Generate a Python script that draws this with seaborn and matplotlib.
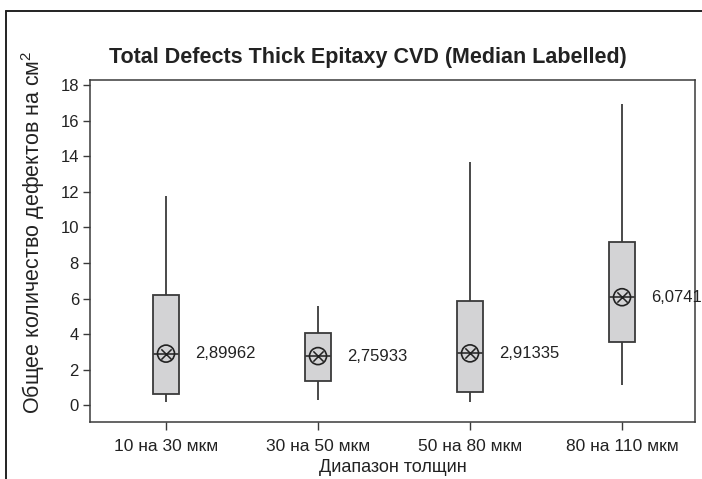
import numpy as np
import pandas as pd
import matplotlib
matplotlib.use("Agg")
import matplotlib.pyplot as plt
from matplotlib.lines import Line2D
import seaborn as sns

categories = ["10 на 30 мкм", "30 на 50 мкм", "50 на 80 мкм", "80 на 110 мкм"]
whisker_low = [0.15, 0.30, 0.15, 1.12]
q1 = [0.60, 1.38, 0.75, 3.53]
medians = [2.89962, 2.75933, 2.91335, 6.0741]
q3 = [6.22, 4.08, 5.87, 9.20]
whisker_high = [11.75, 5.58, 13.68, 16.93]
median_labels = ["2,89962", "2,75933", "2,91335", "6,0741"]
yticks = [0, 2, 4, 6, 8, 10, 12, 14, 16, 18]

rows = []
for i, c in enumerate(categories):
    for v in (whisker_low[i], q1[i], medians[i], q3[i], whisker_high[i]):
        rows.append({"group": c, "value": v})
df = pd.DataFrame(rows)

sns.set_theme(style="white")
plt.rcParams["font.family"] = ["Liberation Sans", "DejaVu Sans"]
plt.rcParams["mathtext.fontset"] = "custom"
plt.rcParams["mathtext.rm"] = "Liberation Sans"
plt.rcParams["mathtext.it"] = "Liberation Sans"

W, H = 702, 479
fig = plt.figure(figsize=(W / 100, H / 100), dpi=100)
ax = fig.add_axes([90 / W, 1 - 422 / H, (695 - 90) / W, (422 - 80) / H])

edge = "#3a3a3a"
sns.boxplot(data=df, x="group", y="value", order=categories, whis=(0, 100),
            width=0.17, color="#d3d3d5", saturation=1, linecolor=edge,
            linewidth=1.3, ax=ax, capprops={"visible": False}, showfliers=False)

# median symbol ⊗
sns.scatterplot(x=np.arange(len(categories)), y=medians, ax=ax, marker="o", s=150,
                facecolor="none", edgecolor="#222222", linewidth=1.2, zorder=5)
sns.scatterplot(x=np.arange(len(categories)), y=medians, ax=ax, marker="x", s=55,
                color="#222222", linewidth=1.1, zorder=6)

for i, (m, lab) in enumerate(zip(medians, median_labels)):
    ax.text(i + 0.19, m, lab, ha="left", va="center", fontsize=12, color="#222222")

ax.set_xlim(-0.5, 3.48)
ax.set_ylim(-0.95, 18.3)
ax.set_yticks(yticks)
ax.set_yticklabels([str(t) for t in yticks])
ax.tick_params(axis="both", which="both", direction="out", length=5, width=1,
               color=edge, labelsize=12, labelcolor="#222222", pad=3,
               left=True, bottom=True)
ax.tick_params(axis="x", length=6, pad=6, labelsize=12.5)
for s in ax.spines.values():
    s.set_color(edge)
    s.set_linewidth(1.1)
ax.set_xlabel("Диапазон толщин", fontsize=13, color="#222222", labelpad=4)
ax.set_ylabel("Общее количество дефектов на см$^2$", fontsize=15.5, color="#222222")
ax.yaxis.set_label_coords(-0.071, 0.556)

fig.text(368 / W, 1 - 57 / H, "Total Defects Thick Epitaxy CVD (Median Labelled)",
         ha="center", va="center", fontsize=15.5, fontweight="bold", color="#222222")

# outer frame lines
fig.add_artist(Line2D([6 / W, 1.0], [1 - 11 / H, 1 - 11 / H], transform=fig.transFigure,
                      color="#222222", linewidth=1.4))
fig.add_artist(Line2D([6 / W, 6 / W], [0, 1 - 11 / H], transform=fig.transFigure,
                      color="#222222", linewidth=1.4))

fig.savefig("out.png", dpi=100)
